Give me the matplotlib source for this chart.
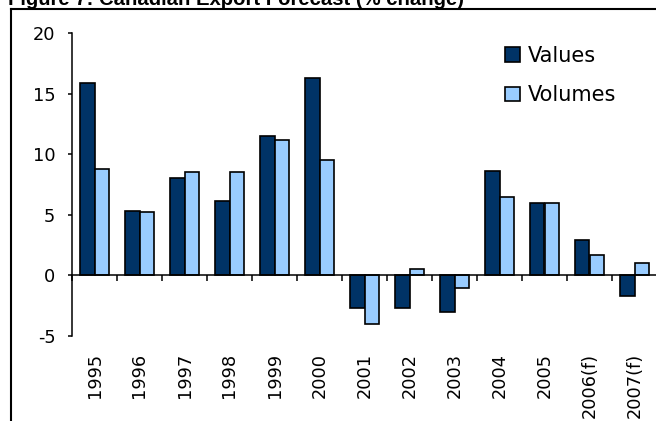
import matplotlib
matplotlib.use("Agg")
import matplotlib.pyplot as plt
import numpy as np
from matplotlib.lines import Line2D

categories = ["1995", "1996", "1997", "1998", "1999", "2000", "2001", "2002",
              "2003", "2004", "2005", "2006(f)", "2007(f)"]
values = [15.9, 5.3, 8.0, 6.1, 11.5, 16.3, -2.7, -2.7, -3.0, 8.6, 6.0, 2.9, -1.7]
volumes = [8.8, 5.2, 8.5, 8.5, 11.2, 9.5, -4.0, 0.5, -1.0, 6.5, 6.0, 1.7, 1.0]
series_names = ["Values", "Volumes"]
yticks = [-5, 0, 5, 10, 15, 20]
title = "Figure 7: Canadian Export Forecast (% change)"

W, H = 656, 421
fig = plt.figure(figsize=(W / 100, H / 100), dpi=100)
fig.patch.set_facecolor("white")

def fx(px):
    return px / W

def fy(py):
    return 1 - py / H

left, right, top, bottom = 72, 657, 33, 336
ax = fig.add_axes([fx(left), fy(bottom), fx(right - left), (bottom - top) / H])

dark = "#003366"
light = "#99CCFF"
x = np.arange(len(categories))
bw = 0.32
ax.bar(x - bw / 2, values, width=bw, color=dark, edgecolor="black", linewidth=1.2, label=series_names[0], zorder=3)
ax.bar(x + bw / 2, volumes, width=bw, color=light, edgecolor="black", linewidth=1.2, label=series_names[1], zorder=3)

ax.set_xlim(-0.5, len(categories) - 0.5)
ax.set_ylim(-5, 20)
ax.set_yticks(yticks)
ax.set_yticklabels([str(t) for t in yticks], fontsize=12.8, family="DejaVu Sans")

for s in ["top", "right"]:
    ax.spines[s].set_visible(False)
ax.spines["left"].set_linewidth(1.1)
ax.spines["bottom"].set_linewidth(1.1)
ax.spines["bottom"].set_position(("data", 0))
ax.spines["bottom"].set_zorder(4)

ax.tick_params(axis="y", direction="out", length=3, width=1.1, pad=9, colors="black")
bounds = np.arange(len(categories) + 1) - 0.5
ax.set_xticks(bounds)
ax.set_xticklabels([])
ax.tick_params(axis="x", direction="out", length=4.5, width=1.1)

for i, lab in enumerate(categories):
    ax.annotate(lab, xy=(x[i], 0), xycoords=("data", "axes fraction"),
                xytext=(0, -12.2), textcoords="offset points",
                rotation=90, ha="center", va="top", fontsize=12.8,
                family="DejaVu Sans", annotation_clip=False)

leg = ax.legend(loc="upper left", bbox_to_anchor=(fx(505), fy(46)),
                bbox_transform=fig.transFigure, frameon=False,
                prop={"family": "DejaVu Sans", "size": 15},
                handlelength=0.7, handleheight=0.7, handletextpad=0.4,
                labelspacing=0.92, borderpad=0, borderaxespad=0)

# outer frame (cropped)
fig.add_artist(Line2D([fx(11), fx(11)], [0, fy(9)], color="black", linewidth=1.5))
fig.add_artist(Line2D([fx(11), 1], [fy(9), fy(9)], color="black", linewidth=1.5))

fig.text(fx(8), fy(5), title, fontsize=14.6, fontweight="bold",
         family="Liberation Sans", ha="left", va="baseline")

fig.savefig("out.png", dpi=100)
